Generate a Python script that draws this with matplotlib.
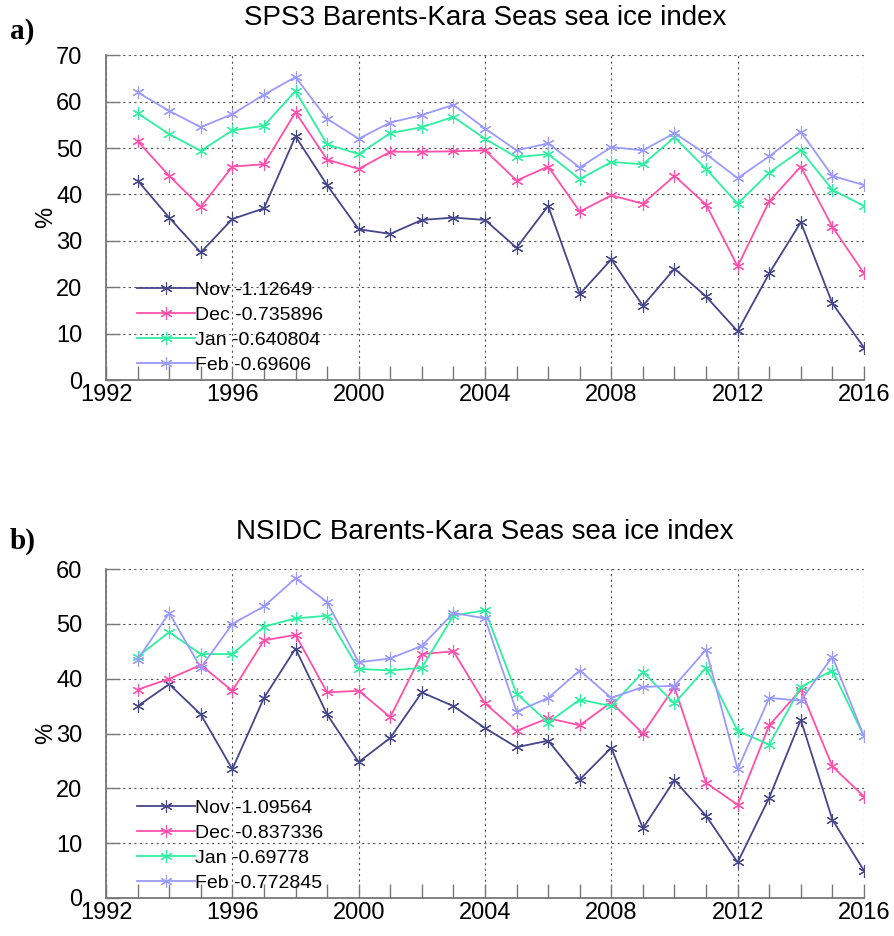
import matplotlib
matplotlib.use("Agg")
import matplotlib.pyplot as plt
from matplotlib.ticker import MultipleLocator

plt.rcParams['font.family'] = ['Liberation Sans', 'DejaVu Sans']

years = list(range(1993, 2017))

# SPS3 (panel a)
sps3_nov = [43, 35, 27.5, 34.7, 37, 52.5, 42, 32.5, 31.5, 34.5, 35, 34.5,
            28.5, 37.5, 18.5, 26, 16, 24, 18, 10.5, 23, 34, 16.5, 7]
sps3_dec = [51.5, 44, 37.3, 46, 46.5, 57.7, 47.5, 45.5, 49.2, 49.2, 49.3, 49.5,
            43, 46, 36.3, 39.8, 38, 44, 37.8, 24.5, 38.5, 46, 33, 23]
sps3_jan = [57.5, 53, 49.4, 53.8, 54.8, 62.3, 50.8, 48.7, 53.2, 54.5, 56.7, 52,
            48, 48.7, 43.3, 47, 46.5, 52.3, 45.5, 38, 44.7, 49.5, 41, 37.5]
sps3_feb = [62, 58, 54.5, 57.3, 61.5, 65.3, 56.3, 52, 55.5, 57.1, 59.3, 54.2,
            49.5, 51, 45.8, 50.2, 49.5, 53.2, 48.7, 43.5, 48.2, 53.5, 44, 42]
sps3_labels = ['Nov -1.12649', 'Dec -0.735896', 'Jan -0.640804', 'Feb -0.69606']

# NSIDC (panel b)
nsidc_nov = [35, 39, 33.5, 23.5, 36.5, 45.5, 33.5, 24.8, 29.2, 37.5, 35, 31,
             27.5, 28.7, 21.6, 27.4, 12.7, 21.5, 15, 6.5, 18.3, 32.5, 14.3, 5]
nsidc_dec = [38, 40, 42.5, 37.8, 47, 48, 37.5, 37.8, 33, 44.5, 45, 35.5,
             30.5, 32.8, 31.5, 35.7, 30, 38.5, 21, 17, 31.5, 38, 24, 18.5]
nsidc_jan = [44, 48.5, 44.5, 44.5, 49.5, 51, 51.5, 41.8, 41.5, 42, 51.5, 52.5,
             37.3, 32, 36.2, 35, 41.2, 35.5, 42, 30.5, 28, 38.5, 41.5, 29.5]
nsidc_feb = [43.5, 52, 42, 50, 53.2, 58.3, 54, 43, 43.7, 46, 52, 51,
             34, 36.5, 41.5, 36.5, 38.5, 38.7, 45.3, 23.5, 36.5, 36, 44, 29.5]
nsidc_labels = ['Nov -1.09564', 'Dec -0.837336', 'Jan -0.69778', 'Feb -0.772845']

colors = ['#45458a', '#ff4faa', '#2ef0a0', '#9a9aff']


def draw_panel(ax, series, labels, ymax, title):
    for vals, lab, col in zip(series, labels, colors):
        ax.plot(years, vals, color=col, lw=1.3, marker=(6, 2, 0), ms=9,
                mew=0.8, label=lab)
    ax.set_xlim(1992, 2016)
    ax.set_ylim(0, ymax)
    ax.xaxis.set_major_locator(MultipleLocator(4))
    ax.xaxis.set_minor_locator(MultipleLocator(1))
    ax.yaxis.set_major_locator(MultipleLocator(10))
    ax.grid(True, which='major', color='#555555', ls=(0, (2, 3)), lw=0.8)
    for s in ['top', 'right']:
        ax.spines[s].set_visible(False)
    for s in ['left', 'bottom']:
        ax.spines[s].set_color('#777777')
        ax.spines[s].set_linewidth(1.3)
    ax.tick_params(which='both', direction='in', color='#777777', labelsize=17)
    ax.tick_params(which='major', length=10, width=1.0)
    ax.tick_params(axis='x', which='minor', length=10, width=1.0)
    ax.tick_params(axis='x', pad=3)
    ax.tick_params(axis='y', pad=17)
    ax.set_ylabel('%', fontsize=17, labelpad=-1)
    ax.set_title(title, fontsize=20, pad=22)
    ax.legend(loc='lower left', frameon=False, fontsize=14, handlelength=3.0,
              numpoints=1, labelspacing=0.38, handletextpad=0.0,
              borderaxespad=0.0, bbox_to_anchor=(0.03, -0.005))


fig = plt.figure(figsize=(8.94, 9.36), dpi=100)
ax1 = fig.add_axes([0.1186, 0.594, 0.8478, 0.347])
ax2 = fig.add_axes([0.1186, 0.0406, 0.8478, 0.3514])

draw_panel(ax1, [sps3_nov, sps3_dec, sps3_jan, sps3_feb], sps3_labels, 70,
           'SPS3 Barents-Kara Seas sea ice index')
draw_panel(ax2, [nsidc_nov, nsidc_dec, nsidc_jan, nsidc_feb], nsidc_labels, 60,
           'NSIDC Barents-Kara Seas sea ice index')

fig.text(0.011, 0.966, 'a)', fontsize=21, fontweight='bold',
         family=['Liberation Serif', 'DejaVu Serif'], va='center')
fig.text(0.011, 0.422, 'b)', fontsize=21, fontweight='bold',
         family=['Liberation Serif', 'DejaVu Serif'], va='center')

fig.savefig('out.png', dpi=100)
